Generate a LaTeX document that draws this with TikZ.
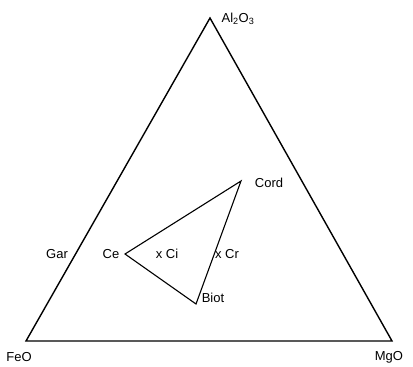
\documentclass[tikz,border=0pt]{standalone}
\usepackage{fontspec}
\setmainfont{Liberation Sans}
\begin{document}
\begin{tikzpicture}[x=1pt,y=-1pt,
  lbl/.style={font=\fontsize{13}{15}\selectfont, inner sep=0pt},
  outer/.style={line width=1.4pt, line join=miter},
  inner/.style={line width=1.1pt, line join=miter}]
\useasboundingbox (0,0) rectangle (413,367);
\coordinate (A) at (210,18);
\coordinate (F) at (26,341);
\coordinate (M) at (392,341);
\coordinate (Ce) at (125,254);
\coordinate (Co) at (241,181);
\coordinate (Bi) at (196,304);
\draw[outer] (A) -- (F) -- (M) -- cycle;
\draw[inner] (Ce) -- (Co) -- (Bi) -- cycle;
\node[lbl] (al) at (238,19) {Al\textsubscript{2}O\textsubscript{3}};
\node[lbl] (feo) at (19,357) {FeO};
\node[lbl] (mgo) at (389,357) {MgO};
\node[lbl] (gar) at (57,254) {Gar};
\node[lbl] (ce) at (111,254) {Ce};
\node[lbl] (ci) at (167,254) {x Ci};
\node[lbl] (cr) at (227,254) {x Cr};
\node[lbl] (cord) at (269,183) {Cord};
\node[lbl] (biot) at (213,298) {Biot};
\end{tikzpicture}
\end{document}
